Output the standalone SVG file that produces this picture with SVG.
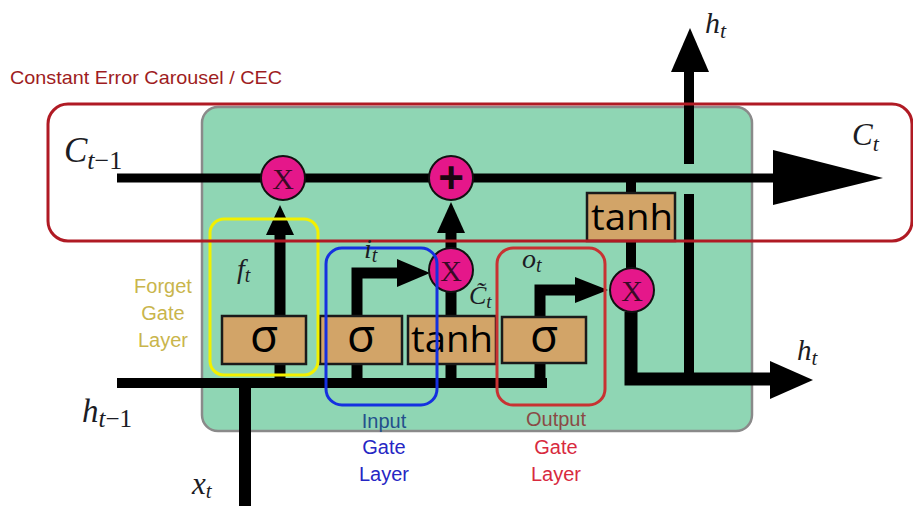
<svg xmlns="http://www.w3.org/2000/svg" width="913" height="506" viewBox="0 0 913 506">
<style>
.ln{stroke:#000;fill:none;stroke-linejoin:miter}
.hd{fill:#000}
.box rect{fill:#d2a468;stroke:#1a1a1a;stroke-width:2.5}
.op circle{fill:#e5178a;stroke:#111;stroke-width:2}
.op text{font-family:"Liberation Serif",serif;font-size:30px;text-anchor:middle;fill:#3a0a26}
.op text.plus{font-family:"Liberation Sans",sans-serif;font-size:44px;font-weight:bold;fill:#1a0610}
.fn{font-family:"Open Sans","Liberation Sans",sans-serif;text-anchor:middle;fill:#000}
.math{font-family:"Liberation Serif",serif;font-style:italic;fill:#1c1c24}
.up{font-style:normal}
.gl{font-family:"Liberation Sans",sans-serif;font-size:20px;text-anchor:middle}
.gate{fill:none;stroke-width:3}
</style>
<rect id="cell" x="202" y="107" width="550" height="324" rx="16" fill="#8fd6b4" stroke="#8a8a8a" stroke-width="2.5"/>
<text id="cec-title" x="10" y="84" font-family="Liberation Sans,sans-serif" font-size="19" fill="#9e1c22" textLength="272" lengthAdjust="spacingAndGlyphs">Constant Error Carousel / CEC</text>
<g id="connectors">
  <path class="ln" stroke-width="9" d="M117,178 H776"/>
  <polygon class="hd" points="773,150 883,178 773,205"/>
  <path class="ln" stroke-width="10" d="M117,383 H547"/>
  <path class="ln" stroke-width="12" d="M245,506 V378"/>
  <path class="ln" stroke-width="11" d="M280,316 V233 M280,364 V383"/>
  <polygon class="hd" points="266,235 280,205 294,235"/>
  <path class="ln" stroke-width="11" d="M357,383 V364 M357,316 V273 H399"/>
  <polygon class="hd" points="397,259 430,273 397,287"/>
  <path class="ln" stroke-width="11" d="M451,383 V364 M451,316 V290 M451,248 V231"/>
  <polygon class="hd" points="437,233 451,202 465,233"/>
  <path class="ln" stroke-width="11" d="M540,388 V363 M540,317 V290 H577"/>
  <polygon class="hd" points="575,277 608,290 575,303"/>
  <path class="ln" stroke-width="10" d="M631,178 V193 M631,241 V268"/>
  <path class="ln" stroke-width="13" d="M631,312 V379 H772"/>
  <polygon class="hd" points="770,361 813,380 770,399"/>
  <path class="ln" stroke-width="10" d="M689,379 V194 M689,164 V70"/>
  <polygon class="hd" points="671,72 690,28 709,72"/>
</g>
<g id="forget-sigma" class="box"><rect x="222" y="316" width="84" height="48"/><text class="fn" x="264" y="352" font-size="46">σ</text></g>
<g id="input-sigma" class="box"><rect x="320" y="316" width="82" height="48"/><text class="fn" x="361" y="352" font-size="46">σ</text></g>
<g id="input-tanh" class="box"><rect x="408" y="316" width="88" height="48"/><text class="fn" x="452" y="352" font-size="37" textLength="82" lengthAdjust="spacingAndGlyphs">tanh</text></g>
<g id="output-sigma" class="box"><rect x="502" y="317" width="84" height="46"/><text class="fn" x="544" y="352" font-size="46">σ</text></g>
<g id="cell-tanh" class="box"><rect x="587" y="193" width="88" height="48"/><text class="fn" x="632" y="230" font-size="37" textLength="82" lengthAdjust="spacingAndGlyphs">tanh</text></g>
<g id="forget-mul" class="op"><circle cx="283" cy="178" r="22"/><text x="283" y="189">X</text></g>
<g id="cell-add" class="op"><circle cx="451" cy="178" r="22"/><text class="plus" x="451" y="193">+</text></g>
<g id="input-mul" class="op"><circle cx="451" cy="270" r="22"/><text x="451" y="281">X</text></g>
<g id="output-mul" class="op"><circle cx="632" cy="290" r="22"/><text x="632" y="301">X</text></g>
<g id="forget-gate"><rect class="gate" x="210" y="219" width="108" height="156" rx="14" stroke="#f2f000"/></g>
<g id="input-gate"><rect class="gate" x="326" y="248" width="111" height="157" rx="16" stroke="#1530e0"/></g>
<g id="output-gate"><rect class="gate" x="497" y="248" width="108" height="157" rx="16" stroke="#c83232" stroke-width="2.5"/></g>
<g id="cec"><rect x="48" y="104" width="864" height="137" rx="20" fill="none" stroke="#b01a24" stroke-width="3"/></g>
<g id="labels">
  <text class="math" x="64" y="162" font-size="35">C<tspan font-size="26" dy="7">t<tspan class="up">−1</tspan></tspan></text>
  <text class="math" x="852" y="145" font-size="31">C<tspan font-size="22" dy="6">t</tspan></text>
  <text class="math" x="705" y="33" font-size="30">h<tspan font-size="22" dy="5">t</tspan></text>
  <text class="math" x="797" y="360" font-size="29">h<tspan font-size="21" dy="5">t</tspan></text>
  <text class="math" x="82" y="422" font-size="33">h<tspan font-size="25" dy="5">t<tspan class="up">−1</tspan></tspan></text>
  <text class="math" x="192" y="494" font-size="31">x<tspan font-size="21" dy="4">t</tspan></text>
  <text class="math" x="237" y="278" font-size="28" fill="#2d5a40">f<tspan font-size="20" dy="4">t</tspan></text>
  <text class="math" x="364" y="258" font-size="28" fill="#2d5a40">i<tspan font-size="20" dy="4">t</tspan></text>
  <text class="math" x="522" y="268" font-size="28" fill="#2d5a40">o<tspan font-size="20" dy="4">t</tspan></text>
  <text class="math" x="469" y="304" font-size="26" fill="#2d5a40">C&#x303;<tspan font-size="19" dy="4">t</tspan></text>
  <text class="gl" x="163" y="293" fill="#c9b54c">Forget</text>
  <text class="gl" x="163" y="320" fill="#c9b54c">Gate</text>
  <text class="gl" x="163" y="347" fill="#c9b54c">Layer</text>
  <text class="gl" x="384" y="428" fill="#24508c">Input</text>
  <text class="gl" x="384" y="454" fill="#2626c4">Gate</text>
  <text class="gl" x="384" y="481" fill="#2626c4">Layer</text>
  <text class="gl" x="556" y="426" fill="#8a4a46">Output</text>
  <text class="gl" x="556" y="454" fill="#d82a3e">Gate</text>
  <text class="gl" x="556" y="481" fill="#d82a3e">Layer</text>
</g>
</svg>
